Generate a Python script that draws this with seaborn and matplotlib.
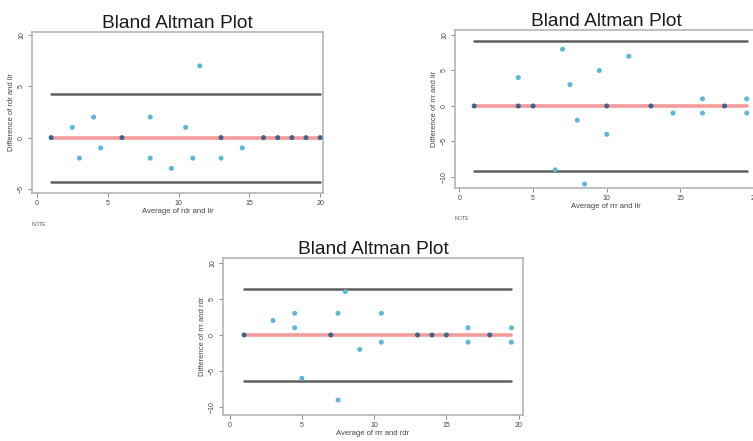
import numpy as np
import pandas as pd
import matplotlib
matplotlib.use("Agg")
import matplotlib.pyplot as plt
import seaborn as sns

# ---------------- data ----------------
# panel 1: rdr vs lir
avg_1 = [1, 2.5, 3, 4, 4.5, 6, 8, 8, 9.5, 10.5, 11, 11.5, 13, 13, 14.5, 16, 17, 18, 19, 20]
diff_1 = [0, 1, -2, 2, -1, 0, 2, -2, -3, 1, -2, 7, 0, -2, -1, 0, 0, 0, 0, 0]
bias_1, loa_1 = 0, 4.3

# panel 2: rrr vs lir
avg_2 = [1, 4, 4, 5, 6.5, 7, 7.5, 8, 8.5, 9.5, 10, 10, 11.5, 13, 14.5, 16.5, 16.5, 18, 19.5, 19.5]
diff_2 = [0, 4, 0, 0, -9, 8, 3, -2, -11, 5, 0, -4, 7, 0, -1, 1, -1, 0, 1, -1]
bias_2, loa_2 = 0, 9.1

# panel 3: rrr vs rdr
avg_3 = [1, 3, 4.5, 4.5, 5, 7, 7.5, 7.5, 8, 9, 10.5, 10.5, 13, 14, 15, 16.5, 16.5, 18, 19.5, 19.5]
diff_3 = [0, 2, 3, 1, -6, 0, 3, -9, 6, -2, 3, -1, 0, 0, 0, 1, -1, 0, 1, -1]
bias_3, loa_3 = 0, 6.4

panels = [
    dict(avg=avg_1, diff=diff_1, bias=bias_1, loa=loa_1,
         xlabel="Average of rdr and lir", ylabel="Difference of rdr and lir",
         yticks=[-5, 0, 5, 10], ylim=(-5.4, 10.3), xlim=(-0.35, 20.2),
         box=(32, 32, 323, 193)),
    dict(avg=avg_2, diff=diff_2, bias=bias_2, loa=loa_2,
         xlabel="Average of rrr and lir", ylabel="Difference of rrr and lir",
         yticks=[-10, -5, 0, 5, 10], ylim=(-11.55, 10.7), xlim=(-0.3, 20.2),
         box=(455, 30, 757, 188)),
    dict(avg=avg_3, diff=diff_3, bias=bias_3, loa=loa_3,
         xlabel="Average of rrr and rdr", ylabel="Difference of rrr and rdr",
         yticks=[-10, -5, 0, 5, 10], ylim=(-11.07, 10.65), xlim=(-0.46, 20.3),
         box=(223, 258, 523, 415)),
]

# ---------------- style ----------------
sns.set_style("white")
plt.rcParams['font.family'] = ['Liberation Sans', 'DejaVu Sans']

W, H = 753, 441
fig = plt.figure(figsize=(W / 100, H / 100), dpi=100)

for p in panels:
    l, t, r, b = p["box"]
    ax = fig.add_axes([l / W, 1 - b / H, (r - l) / W, (b - t) / H])
    df = pd.DataFrame({"avg": p["avg"], "diff": p["diff"]})
    df["zero"] = np.where(df["diff"] == 0, "on", "off")
    x0, x1 = df["avg"].min(), df["avg"].max()

    # limits of agreement and mean difference
    for yv in (p["bias"] + p["loa"], p["bias"] - p["loa"]):
        ax.plot([x0, x1], [yv, yv], color="#5e5e5e", lw=1.8, zorder=2)
    ax.plot([x0, x1], [p["bias"], p["bias"]], color="#f39b9b", lw=2.6, zorder=2)

    sns.scatterplot(data=df, x="avg", y="diff", hue="zero",
                    palette={"off": "#5bb8d6", "on": "#3f6389"},
                    s=13, edgecolor="none", legend=False, ax=ax, zorder=3)

    ax.set_xlim(*p["xlim"])
    ax.set_ylim(*p["ylim"])
    ax.set_xticks([0, 5, 10, 15, 20])
    ax.set_yticks(p["yticks"])
    ax.tick_params(axis="both", labelsize=5, length=3, width=0.6,
                   color="#777777", labelcolor="#444444", pad=2,
                   bottom=True, left=True)
    for lab in ax.get_yticklabels():
        lab.set_rotation(90)
        lab.set_va("center")
    for sp in ax.spines.values():
        sp.set_color("#b5b5b5")
        sp.set_linewidth(1.2)
    ax.set_xlabel(p["xlabel"], fontsize=5.5, color="#444444", labelpad=1)
    ax.set_ylabel(p["ylabel"], fontsize=5.5, color="#444444", labelpad=2)
    ax.set_title("Bland Altman Plot", fontsize=13.8, color="#1a1a1a", pad=3)
    ax.text(0.0, -0.18, "NOTE", transform=ax.transAxes, fontsize=3.8,
            color="#555555", ha="left", va="top")

fig.savefig("out.png", dpi=100)
